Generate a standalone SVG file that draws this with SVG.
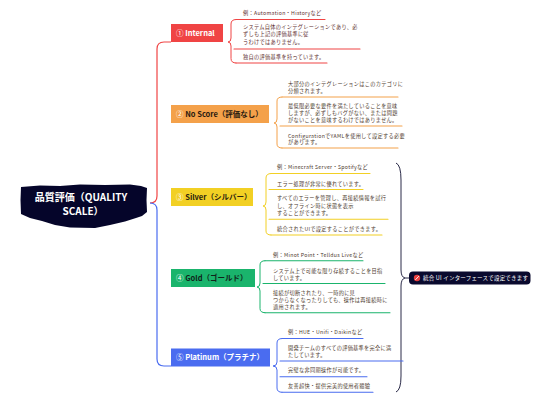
<svg xmlns="http://www.w3.org/2000/svg" width="550" height="400" viewBox="0 0 550 400">
<style>
.leaf{font-family:"Noto Sans CJK JP","Noto Sans",sans-serif;font-size:5.2px;letter-spacing:0.3px;fill:#4d3a2e}
.bt{font-family:"Noto Sans CJK JP","Noto Sans",sans-serif;font-size:7.5px;font-weight:bold}
.num{fill:#ffffff;font-weight:normal}
.ul{fill:none;stroke-width:1.1;stroke-linecap:round}
.br{fill:none;stroke-width:1;stroke-linecap:round}
</style>
<rect width="550" height="400" fill="#ffffff"/>

<g id="connectors">
<path d="M150,203 Q157,203 157,196 L157,49 Q157,42 164,42 L171,42" fill="none" stroke="#f04444" stroke-width="1.2"/>
<path d="M150,203 Q157,203 157,210 L157,359 Q157,366 164,366 L171,366" fill="none" stroke="#4a6cf0" stroke-width="1.2"/>
<path d="M396,163 Q401,165 401,180 L401,270 Q401,277 405,278 Q401,279 401,286 L401,376 Q401,390 396,392" fill="none" stroke="#2a2a48" stroke-width="1"/>
<path d="M405,278 L409,278" fill="none" stroke="#2a2a48" stroke-width="1"/>
</g>

<g id="root">
<path d="M21,187 L40,185.5 L60,186 L80,184.5 L105,185 L130,184.5 L141,186 L147,188 L146.5,200 L147,212 L142,216 L136,218 L125,221.5 L110,225 L95,228 L70,227.5 L55,225 L42,221 L30,218 L21,214 L20.5,200 Z" fill="#05052a"/>
<text x="81" y="201" text-anchor="middle" font-family="'Noto Sans CJK JP','Noto Sans',sans-serif" font-size="10px" font-weight="bold" fill="#ffffff">品質評価（QUALITY</text>
<text x="83" y="215" text-anchor="middle" font-family="'Noto Sans CJK JP','Noto Sans',sans-serif" font-size="10px" font-weight="bold" fill="#ffffff">SCALE）</text>
</g>

<g id="internal">
<rect x="171" y="24" width="52" height="18" fill="#f04444"/>
<text x="176" y="35.7" class="bt" fill="#ffffff"><tspan class="num">①</tspan> Internal</text>
<path class="br" stroke="#f04444" d="M236,19.5 Q231,19.5 231,24 L231,38 Q231,42 228,42 Q231,42 231,46 L231,58.5 Q231,63 236,63"/>
<path class="ul" stroke="#f04444" d="M236,19.5 L325,19.5 M234,49 L360,49 M236,63 L327,63"/>
<text class="leaf" x="243" y="15" style="fill:#5e2e2e">例：Automation・Historyなど</text>
<text class="leaf" x="243" y="28.5" style="fill:#5e2e2e">システム自体のインテグレーションであり、必</text>
<text class="leaf" x="243" y="36.2" style="fill:#5e2e2e">ずしも上記の評価基準に従</text>
<text class="leaf" x="243" y="44" style="fill:#5e2e2e">うわけではありません。</text>
<text class="leaf" x="243" y="58.5" style="fill:#5e2e2e">独自の評価基準を持っています。</text>
</g>

<g id="noscore">
<rect x="171" y="105" width="98" height="18" fill="#f4a14a"/>
<text x="176" y="116.7" class="bt" fill="#2a1a10"><tspan class="num">②</tspan> No Score（評価なし）</text>
<path class="br" stroke="#f4a14a" d="M282,97 Q277,97 277,101 L277,119 Q277,123 274,123 Q277,123 277,127 L277,144 Q277,148 282,148"/>
<path class="ul" stroke="#f4a14a" d="M282,97 L398,97 M280,126 L402,126 M282,148 L398,148"/>
<text class="leaf" x="288" y="85.8">大部分のインテグレーションはこのカテゴリに</text>
<text class="leaf" x="288" y="92.6">分類されます。</text>
<text class="leaf" x="288" y="107.5">最低限必要な要件を満たしていることを意味</text>
<text class="leaf" x="288" y="114.5">しますが、必ずしもバグがない、または問題</text>
<text class="leaf" x="288" y="121.8">がないことを意味するわけではありません。</text>
<text class="leaf" x="288" y="137.5">ConfigurationでYAMLを使用して設定する必要</text>
<text class="leaf" x="288" y="144.2">があります。</text>
</g>

<g id="silver">
<rect x="171" y="188" width="82" height="18" fill="#f2d024"/>
<text x="176" y="199.7" class="bt" fill="#2a2210"><tspan class="num">③</tspan> Silver（シルバー）</text>
<path class="br" stroke="#f2d024" d="M271,173.5 Q266,173.5 266,178 L266,202 Q266,206 263,206 Q266,206 266,210 L266,231 Q266,235 271,235"/>
<path class="ul" stroke="#f2d024" d="M271,173.5 L370,173.5 M269,189.5 L363,189.5 M269,219.3 L388,219.3 M271,235 L382,235"/>
<text class="leaf" x="277" y="169">例：Minecraft Server・Spotifyなど</text>
<text class="leaf" x="277" y="185.8">エラー処理が非常に優れています。</text>
<text class="leaf" x="277" y="200">すべてのエラーを管理し、再接続情報を試行</text>
<text class="leaf" x="277" y="207.5">し、オフライン時に状態を表示</text>
<text class="leaf" x="277" y="214.5">することができます。</text>
<text class="leaf" x="277" y="231">統合されたUIで設定することができます。</text>
</g>

<g id="gold">
<rect x="171" y="269" width="84" height="18" fill="#1ab46c"/>
<text x="176" y="280.7" class="bt" fill="#10241a"><tspan class="num">④</tspan> Gold（ゴールド）</text>
<path class="br" stroke="#1ab46c" d="M265,260.7 Q260,260.7 260,265 L260,283 Q260,287 257,287 Q260,287 260,291 L260,308.5 Q260,312.7 265,312.7"/>
<path class="ul" stroke="#1ab46c" d="M265,260.7 L363,260.7 M263,283.5 L385,283.5 M265,312.7 L390,312.7"/>
<text class="leaf" x="273" y="256.8">例：Minot Point・Telldus Liveなど</text>
<text class="leaf" x="273" y="272.5">システム上で可能な限り存続することを目指</text>
<text class="leaf" x="273" y="279.5">しています。</text>
<text class="leaf" x="273" y="294.5">接続が切断されたり、一時的に見</text>
<text class="leaf" x="273" y="301.8">つからなくなったりしても、操作は再接続時に</text>
<text class="leaf" x="273" y="308.5">適用されます。</text>
</g>

<g id="platinum">
<rect x="171" y="348.5" width="99" height="18" fill="#4a6cf0"/>
<text x="176" y="360.2" class="bt" fill="#ffffff"><tspan class="num">⑤</tspan> Platinum（プラチナ）</text>
<path class="br" stroke="#4a6cf0" d="M282,338.5 Q277,338.5 277,343 L277,362 Q277,366 273,366 Q277,366 277,370 L277,388 Q277,392.3 282,392.3"/>
<path class="ul" stroke="#4a6cf0" d="M282,338.5 L363,338.5 M280,361 L403,361 M280,376.7 L367,376.7 M282,392.3 L373,392.3"/>
<text class="leaf" x="288" y="333.5">例：HUE・Unifi・Daikinなど</text>
<text class="leaf" x="288" y="350">開発チームのすべての評価基準を完全に満</text>
<text class="leaf" x="288" y="357">たしています。</text>
<text class="leaf" x="288" y="372">完璧な非同期操作が可能です。</text>
<text class="leaf" x="288" y="388">友善超快・提供完美的使用者體驗</text>
</g>

<g id="summary">
<rect x="409" y="271.5" width="121.5" height="13" rx="4" fill="#0a0a2e"/>
<circle cx="417" cy="278" r="3.2" fill="#e84040"/>
<path d="M415.6,279.6 L418.6,276.4" stroke="#ffffff" stroke-width="0.9" stroke-linecap="round"/>
<text x="423" y="280" font-family="'Noto Sans CJK JP','Noto Sans',sans-serif" font-size="5.5px" letter-spacing="0.2px" fill="#ffffff">統合 UI インターフェースで設定できます</text>
</g>
</svg>
